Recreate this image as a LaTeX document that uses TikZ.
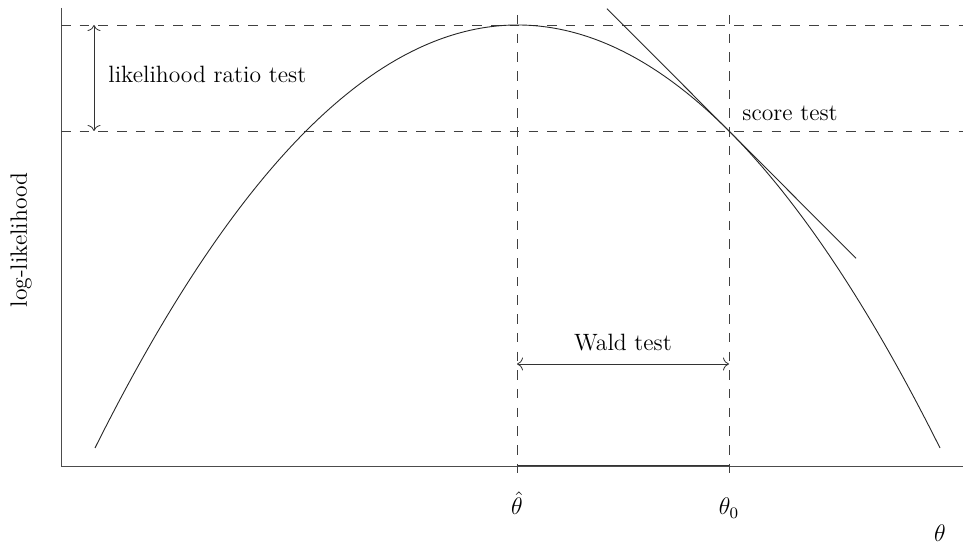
\documentclass[tikz,border=0pt]{standalone}
\usetikzlibrary{arrows.meta}
\begin{document}
\begin{tikzpicture}[x=0.5pt,y=0.5pt,
  axisline/.style={line width=0.45pt, black!70},
  guide/.style={line width=0.45pt, black!75, dash pattern=on 4.75pt off 4.6pt},
  curve/.style={line width=0.45pt, black!85},
  measure/.style={line width=0.4pt, black!80, {To[length=3pt,width=6.5pt]}-{To[length=3pt,width=6.5pt]}},
  lbl/.style={font=\fontsize{11.8}{14}\selectfont, inner sep=0pt}]
\useasboundingbox (0,0) rectangle (963,545);
% key points
\coordinate (ytop) at (61,537);
\coordinate (origin) at (61,79);
\coordinate (xend) at (963,79);
\coordinate (hl1a) at (61,520); \coordinate (hl1b) at (963,520);
\coordinate (hl2a) at (61,414); \coordinate (hl2b) at (963,414);
\coordinate (vhatt) at (517,530); \coordinate (vhatb) at (517,65);
\coordinate (v0t) at (729,530); \coordinate (v0b) at (729,65);
\coordinate (ax1) at (517,79); \coordinate (ax2) at (729,79);
\coordinate (cstart) at (95,97); \coordinate (cend) at (940,97);
\coordinate (tanA) at (607,536.3); \coordinate (tanB) at (856,286.7);
\coordinate (lrA) at (94,520); \coordinate (lrB) at (94,414);
\coordinate (wA) at (517,181); \coordinate (wB) at (729,181);
% axes
\draw[axisline] (ytop) -- (origin) -- (xend);
\draw[line width=0.5pt, black!80] (ax1) -- (ax2);
% guides
\draw[guide] (hl1a) -- (hl1b);
\draw[guide] (hl2a) -- (hl2b);
\draw[guide] (vhatt) -- (vhatb);
\draw[guide] (v0t) -- (v0b);
% log-likelihood curve (parabola)
\draw[curve] (cstart) .. controls (376.67,661) and (658.33,661) .. (cend);
% tangent
\draw[curve] (tanA) -- (tanB);
% measures
\draw[measure] (lrA) -- (lrB);
\draw[measure] (wA) -- (wB);
% labels
\node[lbl, anchor=base west] (lrt) at (108,462) {likelihood ratio test};
\node[lbl, anchor=base west] (st) at (742,424) {score test};
\node[lbl, anchor=base] (wt) at (623,194) {Wald test};
\node[lbl, anchor=base] (thhat) at (517,30) {$\hat\theta$};
\node[lbl, anchor=base] (th0) at (729,30) {$\theta_0$};
\node[lbl, anchor=base] (th) at (940,3) {$\theta$};
\node[lbl, rotate=90] (ll) at (21,305) {log-likelihood};
\end{tikzpicture}
\end{document}
